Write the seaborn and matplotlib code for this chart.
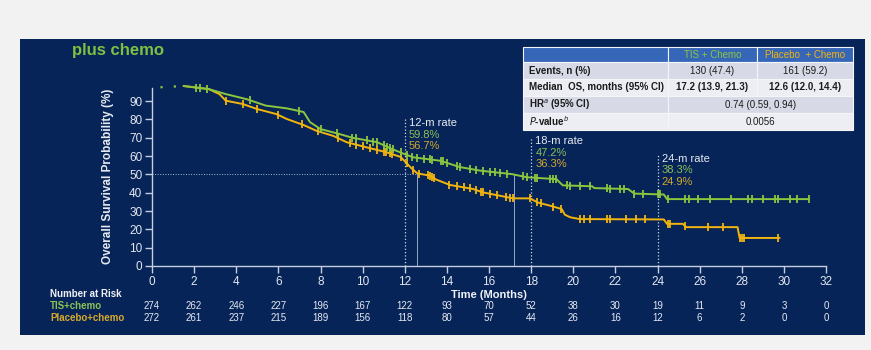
import numpy as np
import pandas as pd
import matplotlib
matplotlib.use("Agg")
import matplotlib.pyplot as plt
from matplotlib.patches import Rectangle
import seaborn as sns

# curve vertices (months, % surviving)
lead_t = [0.4, 1.5]
lead_s = [97.5, 98.2]
tis_t = [1.5, 2.7, 3.5, 4.5, 5.4, 6.4, 7.2, 7.5, 8.0, 8.9, 9.5, 10.7, 11.4, 12.0, 12.4,
         13.7, 14.6, 15.6, 17.1, 17.8, 19.2, 19.5, 20.9, 21.0, 22.6, 22.9, 24.3, 24.45, 31.2]
tis_s = [98.2, 96.5, 93.8, 91.0, 87.5, 86.0, 84.0, 78.5, 74.7, 72.0, 70.0, 67.5, 63.8, 61.0, 59.3,
         57.4, 54.0, 52.0, 50.1, 48.4, 47.4, 44.0, 43.5, 42.5, 42.0, 39.5, 39.0, 36.5, 36.5]
pbo_t = [1.5, 2.7, 3.2, 3.5, 4.3, 5.0, 5.9, 6.4, 7.2, 7.8, 8.6, 9.25, 10.2, 11.15, 11.8, 12.1,
         12.3, 12.6, 13.2, 13.5, 14.15, 15.25, 15.7, 16.35, 17.15, 17.95, 18.3, 18.9, 19.45, 19.6,
         19.85, 20.3, 24.3, 24.45, 25.2, 25.35, 27.8, 27.9, 29.8]
pbo_s = [98.2, 96.5, 93.8, 90.2, 88.4, 85.6, 82.9, 80.2, 76.9, 73.8, 71.0, 67.5, 64.7, 62.0, 59.5, 56.0,
         53.5, 50.5, 49.3, 47.1, 44.2, 42.0, 40.2, 38.7, 36.9, 36.9, 34.7, 32.9, 31.1, 28.0,
         26.6, 25.6, 25.4, 23.0, 23.0, 21.2, 21.2, 15.3, 15.3]

# censoring times
tis_cens = [2.1, 2.3, 2.6, 4.65, 7.0, 8.0, 8.8, 9.5, 9.7, 10.2, 10.5, 10.7, 11.0, 11.15, 11.3, 11.45,
            11.8, 12.1, 12.35, 12.6, 12.9, 13.2, 13.3, 13.7, 13.8, 14.0, 14.5, 14.6, 15.1, 15.4, 15.7,
            16.05, 16.3, 16.5, 16.85, 17.6, 17.8, 18.2, 18.3, 18.9, 19.05, 19.2, 19.7, 19.85, 20.3, 20.8,
            21.6, 21.75, 22.2, 22.4, 22.9, 23.3, 24.0, 24.1, 24.5, 25.3, 25.5, 25.9, 26.5, 27.5, 28.3,
            28.5, 29.0, 29.6, 29.7, 30.3, 30.6, 31.2]
pbo_cens = [3.5, 4.3, 5.0, 6.0, 7.1, 7.9, 8.85, 9.4, 9.7, 10.0, 10.35, 10.7, 11.0, 11.1, 11.3, 11.4,
            11.8, 12.1, 12.4, 12.7, 13.1, 13.2, 13.3, 13.4, 14.1, 14.5, 14.8, 15.1, 15.4, 15.6, 15.7,
            16.05, 16.4, 16.8, 17.0, 17.15, 17.95, 18.3, 18.45, 19.05, 19.4, 20.3, 20.5, 20.8, 21.6,
            21.75, 22.5, 23.0, 23.4, 24.5, 24.6, 25.3, 26.4, 27.1, 27.9, 28.0, 28.1, 29.7]

# landmark rates
landmarks = [12, 18, 24]
landmark_top = [80, 70, 60.5]
rate_labels = ["12-m rate", "18-m rate", "24-m rate"]
tis_rates = ["59.8%", "47.2%", "38.3%"]
pbo_rates = ["56.7%", "36.3%", "24.9%"]
medians = [12.6, 17.2]

# number at risk
risk_times = list(range(0, 33, 2))
tis_risk = [274, 262, 246, 227, 196, 167, 122, 93, 70, 52, 38, 30, 19, 11, 9, 3, 0]
pbo_risk = [272, 261, 237, 215, 189, 156, 118, 80, 57, 44, 26, 16, 12, 6, 2, 0, 0]

# summary table
tbl_header = ["", "TIS + Chemo", "Placebo  + Chemo"]
tbl_rows = ["Events, n (%)", "Median  OS, months (95% CI)", "HR$^{a}$ (95% CI)", "$\\bf{\\it{P}}$-value$^{b}$"]
tbl_tis = ["130 (47.4)", "17.2 (13.9, 21.3)"]
tbl_pbo = ["161 (59.2)", "12.6 (12.0, 14.4)"]
tbl_span = ["0.74 (0.59, 0.94)", "0.0056"]

navy = "#062457"
green = "#8cc63f"
gold = "#f2b50f"
green_txt = "#8dbf57"
gold_txt = "#d6a92c"
axis_col = "#c5cde0"
ref_col = "#a9bbdc"

sns.set_style("white")
plt.rcParams["font.family"] = ["Liberation Sans", "DejaVu Sans"]

W, H = 871, 350
fig = plt.figure(figsize=(W / 100, H / 100), dpi=100, facecolor="#f2f2f2")


def fx(px):
    return px / W


def fy(py):
    return 1 - py / H


fig.patches.append(Rectangle((fx(20), fy(335)), fx(845), 296 / H, transform=fig.transFigure,
                             facecolor=navy, edgecolor="none", zorder=-5))

ax = fig.add_axes([fx(152), fy(266), fx(674), 183.3 / H])
ax.set_facecolor("none")

# reference lines
ax.plot([0, medians[0]], [50, 50], color=ref_col, lw=0.7, ls=":", zorder=1)
for m in medians:
    ax.plot([m, m], [0, 50], color=ref_col, lw=0.6, zorder=1)
for lm, top in zip(landmarks, landmark_top):
    ax.plot([lm, lm], [0, top], color="#d0dbee", lw=0.9, ls=":", zorder=1)

tis = pd.DataFrame({"t": tis_t, "s": tis_s})
pbo = pd.DataFrame({"t": pbo_t, "s": pbo_s})
lead = pd.DataFrame({"t": lead_t, "s": lead_s})
sns.lineplot(data=lead, x="t", y="s", color=green, lw=1.6, ls=(0, (1, 5)), estimator=None,
             sort=False, ax=ax, zorder=4)
sns.lineplot(data=pbo, x="t", y="s", color=gold, lw=1.4, estimator=None, sort=False, ax=ax, zorder=3)
sns.lineplot(data=tis, x="t", y="s", color=green, lw=1.4, estimator=None, sort=False, ax=ax, zorder=4)

pbo_c = pd.DataFrame({"t": pbo_cens, "s": np.interp(pbo_cens, pbo_t, pbo_s)})
tis_c = pd.DataFrame({"t": tis_cens, "s": np.interp(tis_cens, tis_t, tis_s)})
sns.scatterplot(data=pbo_c, x="t", y="s", marker="|", s=30, linewidth=1.3, color=gold, ax=ax, zorder=3)
sns.scatterplot(data=tis_c, x="t", y="s", marker="|", s=30, linewidth=1.3, color=green, ax=ax, zorder=4)

for lm, top, lab, r1, r2 in zip(landmarks, landmark_top, rate_labels, tis_rates, pbo_rates):
    ax.text(lm + 0.2, top - 2, lab, color="#e6eaf2", fontsize=8, va="center")
    ax.text(lm + 0.2, top - 8.3, r1, color=green_txt, fontsize=8, va="center")
    ax.text(lm + 0.2, top - 14.5, r2, color=gold_txt, fontsize=8, va="center")

ax.set_xlim(0, 32)
ax.set_ylim(0, 100)
ax.set_xticks(range(0, 33, 2))
ax.set_yticks(range(0, 91, 10))
ax.set_xlabel("")
ax.set_ylabel("")
for side in ["top", "right"]:
    ax.spines[side].set_visible(False)
for side in ["left", "bottom"]:
    ax.spines[side].set_color(axis_col)
    ax.spines[side].set_linewidth(1.0)
ax.spines["left"].set_bounds(0, 97)
ax.tick_params(colors=axis_col, labelcolor="#e3e7f0", labelsize=8.5, length=5, width=1, pad=2,
               direction="out", bottom=True, left=True)
ax.tick_params(axis="x", pad=2)

ax.text(-0.065, 0.49, "Overall Survival Probability (%)", transform=ax.transAxes, rotation=90,
        color="#e6eaf2", fontsize=8.5, fontweight="bold", ha="center", va="center")
xt = ax.get_xaxis_transform()
ax.text(16, -0.158, "Time (Months)", transform=xt, color="#f0f2f6", fontsize=8,
        fontweight="bold", ha="center", va="center", clip_on=False)

# number at risk
ax.text(-4.84, -0.153, "Number at Risk", transform=xt, color="#eef0f5", fontsize=7,
        fontweight="bold", ha="left", va="center", clip_on=False)
ax.text(-4.84, -0.218, "TIS+chemo", transform=xt, color=green_txt, fontsize=7,
        fontweight="bold", ha="left", va="center", clip_on=False)
ax.text(-4.84, -0.284, "Placebo+chemo", transform=xt, color=gold_txt, fontsize=7,
        fontweight="bold", ha="left", va="center", clip_on=False)
for t, a, b in zip(risk_times, tis_risk, pbo_risk):
    ax.text(t, -0.218, str(a), transform=xt, color="#e6eaf2", fontsize=7, ha="center", va="center")
    ax.text(t, -0.284, str(b), transform=xt, color="#e6eaf2", fontsize=7, ha="center", va="center")

fig.text(fx(72), fy(55), "plus chemo", color="#7dc142", fontsize=12, fontweight="bold", va="baseline")

# summary table
col_x = [523, 668, 757, 853]
row_y = [47, 62, 79, 96, 113, 130]
row_fill = ["#d7dae6", "#eceef4", "#d7dae6", "#eceef4"]


def cell(x0, x1, y0, y1, fc):
    fig.patches.append(Rectangle((fx(x0), fy(y1)), fx(x1 - x0), (y1 - y0) / H, transform=fig.transFigure,
                                 facecolor=fc, edgecolor="#f4f5f8", lw=0.8, zorder=5))


for i in range(3):
    cell(col_x[i], col_x[i + 1], row_y[0], row_y[1], "#3566b8")
hdr_col = [None, green, gold]
for i in (1, 2):
    fig.text(fx((col_x[i] + col_x[i + 1]) / 2), fy((row_y[0] + row_y[1]) / 2), tbl_header[i],
             color=hdr_col[i], fontsize=7, ha="center", va="center", zorder=6)
for r in range(4):
    y0, y1 = row_y[r + 1], row_y[r + 2]
    yc = fy((y0 + y1) / 2)
    cell(col_x[0], col_x[1], y0, y1, row_fill[r])
    fig.text(fx(529), yc, tbl_rows[r], color="#1b1b1b", fontsize=7, fontweight="bold",
             ha="left", va="center", zorder=6)
    if r < 2:
        cell(col_x[1], col_x[2], y0, y1, row_fill[r])
        cell(col_x[2], col_x[3], y0, y1, row_fill[r])
        wt = "bold" if r == 1 else "normal"
        fig.text(fx((col_x[1] + col_x[2]) / 2), yc, tbl_tis[r], color="#1b1b1b", fontsize=7,
                 fontweight=wt, ha="center", va="center", zorder=6)
        fig.text(fx((col_x[2] + col_x[3]) / 2), yc, tbl_pbo[r], color="#1b1b1b", fontsize=7,
                 fontweight=wt, ha="center", va="center", zorder=6)
    else:
        cell(col_x[1], col_x[3], y0, y1, row_fill[r])
        fig.text(fx((col_x[1] + col_x[3]) / 2), yc, tbl_span[r - 2], color="#1b1b1b", fontsize=7,
                 ha="center", va="center", zorder=6)

fig.savefig("out.png", dpi=100, facecolor=fig.get_facecolor())
